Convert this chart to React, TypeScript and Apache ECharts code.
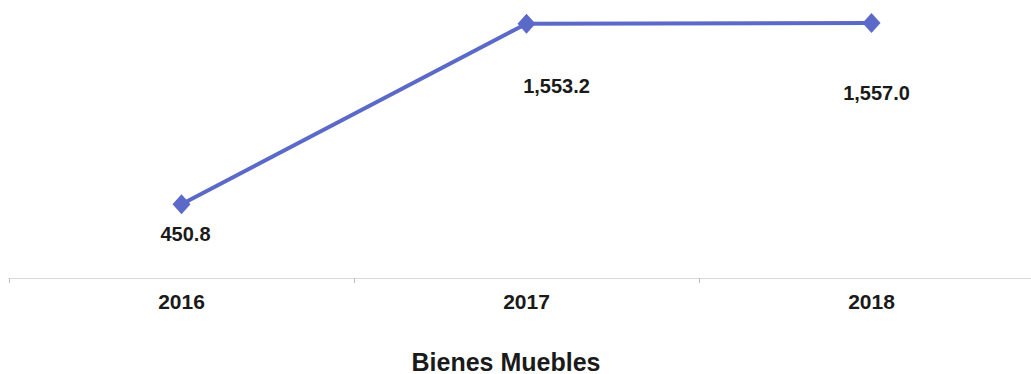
import React, { useEffect, useRef } from "react";
import * as echarts from "echarts";

const categories = ["2016", "2017", "2018"];
const values = [450.8, 1553.2, 1557.0];
const labelOffsets = [[4, 10], [30, 42], [5, 50]];
const title = "Bienes Muebles";

function fmt(v: number) {
  return v.toLocaleString("en-US", { minimumFractionDigits: 1, maximumFractionDigits: 1 });
}

export default function App() {
  const ref = useRef<HTMLDivElement>(null);
  useEffect(() => {
    document.body.style.margin = "0";
    document.body.style.overflow = "hidden";
    const chart = echarts.init(ref.current!, undefined, { renderer: "svg" });
    chart.setOption({
      animation: false,
      backgroundColor: "#ffffff",
      title: {
        text: title,
        left: 506,
        top: 349,
        padding: 0,
        textAlign: "center",
        textStyle: { fontFamily: "Liberation Sans, Arial", fontSize: 25, fontWeight: "bold", color: "#1a1a1a" },
      },
      grid: { left: 9, top: 16, width: 1035, height: 262, containLabel: false },
      xAxis: {
        type: "category",
        data: categories,
        boundaryGap: true,
        axisLine: { lineStyle: { color: "#d9d9d9", width: 1 } },
        axisTick: { show: true, length: 5, lineStyle: { color: "#bfbfbf" } },
        axisLabel: {
          margin: 13,
          fontFamily: "Liberation Sans, Arial",
          fontSize: 21,
          fontWeight: "bold",
          color: "#1a1a1a",
        },
      },
      yAxis: {
        type: "value",
        min: 0,
        max: 1600,
        show: false,
        splitLine: { show: false },
      },
      series: [
        {
          type: "line",
          data: values.map((v, i) => ({
            value: v,
            label: { offset: labelOffsets[i] },
          })),
          symbol: "diamond",
          symbolSize: [18, 20],
          itemStyle: { color: "#5b6ac9" },
          lineStyle: { color: "#5b6ac9", width: 4 },
          label: {
            show: true,
            position: "bottom",
            distance: 0,
            formatter: (p: any) => fmt(p.value),
            fontFamily: "Liberation Sans, Arial",
            fontSize: 20,
            fontWeight: "bold",
            color: "#1a1a1a",
          },
        },
      ],
    });
    return () => chart.dispose();
  }, []);
  return <div ref={ref} style={{ position: "absolute", left: 0, top: 0, width: 1060, height: 374 }} />;
}
